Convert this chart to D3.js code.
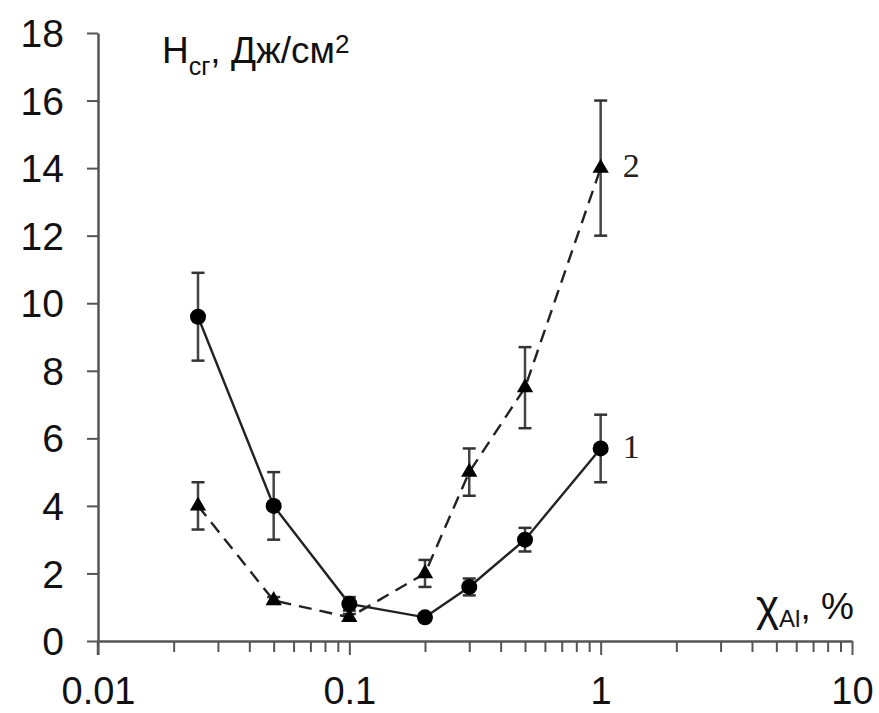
<!DOCTYPE html>
<html><head><meta charset="utf-8">
<script src="https://cdn.jsdelivr.net/npm/d3@7"></script>
<style>body{margin:0;background:#fff}svg{display:block}</style>
</head><body>
<svg id="c" width="879" height="713"></svg>
<script>
// Data
const xValues = [0.025, 0.05, 0.1, 0.2, 0.3, 0.5, 1];
const series1 = [9.6, 4.0, 1.1, 0.7, 1.6, 3.0, 5.7];
const series1Err = [1.3, 1.0, 0.2, 0.1, 0.25, 0.35, 1.0];
const series2 = [4.0, 1.2, 0.7, 2.0, 5.0, 7.5, 14.0];
const series2Err = [0.7, 0.1, 0.1, 0.4, 0.7, 1.2, 2.0];
const yTicks = [0, 2, 4, 6, 8, 10, 12, 14, 16, 18];
const xMajorTicks = [0.01, 0.1, 1, 10];
const xTickLabels = ["0.01", "0.1", "1", "10"];

const svg = d3.select("#c");
const x = d3.scaleLog().domain([0.01, 10]).range([98, 852]);
const y = d3.scaleLinear().domain([0, 18]).range([641, 33]);
const axisColor = "#555";
const font = "'Liberation Sans', Arial, sans-serif";

// X axis minor ticks
const minor = [];
[0.01, 0.1, 1].forEach(d => { for (let k = 2; k <= 9; k++) minor.push(d * k); });
const xAxisMinor = d3.axisBottom(x).tickValues(minor).tickSize(11).tickFormat("");
const gxm = svg.append("g").attr("transform", "translate(0,641)").call(xAxisMinor);
gxm.select(".domain").remove();
gxm.selectAll("line").attr("stroke", axisColor).attr("stroke-width", 2);

const xAxis = d3.axisBottom(x).tickValues(xMajorTicks).tickSize(14).tickSizeOuter(0)
  .tickFormat((d, i) => xTickLabels[i]);
const gx = svg.append("g").attr("transform", "translate(0,641)").call(xAxis);
gx.select(".domain").attr("stroke", axisColor).attr("stroke-width", 2.5);
gx.selectAll("line").attr("stroke", axisColor).attr("stroke-width", 2);
gx.selectAll("text").attr("font-family", font).attr("font-size", 38).attr("fill", "#111")
  .attr("y", 0).attr("dy", 63);

// Y axis
const yAxis = d3.axisLeft(y).tickValues(yTicks).tickSize(11).tickSizeOuter(0).tickFormat(d3.format("d"));
const gy = svg.append("g").attr("transform", "translate(98,0)").call(yAxis);
gy.select(".domain").attr("stroke", axisColor).attr("stroke-width", 2.5);
gy.selectAll("line").attr("stroke", axisColor).attr("stroke-width", 2);
gy.selectAll("text").attr("font-family", font).attr("font-size", 39).attr("fill", "#111")
  .attr("x", -34).attr("dy", "0.35em");
// extend y axis downward below x axis
svg.append("line").attr("x1", 98).attr("x2", 98).attr("y1", y(0)).attr("y2", y(0) + 14)
  .attr("stroke", axisColor).attr("stroke-width", 2.5);

// Lines
const pts1 = xValues.map((d, i) => [d, series1[i], series1Err[i]]);
const pts2 = xValues.map((d, i) => [d, series2[i], series2Err[i]]);
const line = d3.line().x(d => x(d[0])).y(d => y(d[1]));

svg.append("path").datum(pts2).attr("d", line).attr("fill", "none")
  .attr("stroke", "#222").attr("stroke-width", 2.4).attr("stroke-dasharray", "13,8");
svg.append("path").datum(pts1).attr("d", line).attr("fill", "none")
  .attr("stroke", "#222").attr("stroke-width", 2.4);

// Error bars
function errorBars(pts) {
  const g = svg.append("g");
  pts.forEach(d => {
    const cx = x(d[0]);
    const top = y(d[1] + d[2]), bot = y(d[1] - d[2]);
    g.append("line").attr("x1", cx).attr("x2", cx).attr("y1", top).attr("y2", bot)
      .attr("stroke", "#444").attr("stroke-width", 2.5);
    [top, bot].forEach(yy => g.append("line").attr("x1", cx - 6.5).attr("x2", cx + 6.5)
      .attr("y1", yy).attr("y2", yy).attr("stroke", "#333").attr("stroke-width", 2.5));
  });
}
errorBars(pts1);
errorBars(pts2);

// Markers
svg.append("g").selectAll("circle").data(pts1).join("circle")
  .attr("cx", d => x(d[0])).attr("cy", d => y(d[1])).attr("r", 8).attr("fill", "#000");
const tri = d3.symbol().type(d3.symbolTriangle).size(115);
svg.append("g").selectAll("path").data(pts2).join("path")
  .attr("d", tri).attr("transform", d => `translate(${x(d[0])},${y(d[1])})`).attr("fill", "#000");

// Series labels
svg.append("text").attr("x", x(1) + 22).attr("y", y(series1[6]) + 10).attr("font-family", "'Liberation Serif', 'Times New Roman', serif")
  .attr("font-size", 34).attr("fill", "#222").text("1");
svg.append("text").attr("x", x(1) + 22).attr("y", y(series2[6]) + 9).attr("font-family", "'Liberation Serif', 'Times New Roman', serif")
  .attr("font-size", 34).attr("fill", "#222").text("2");

// Y title
const yt = svg.append("text").attr("x", 162).attr("y", 63).attr("font-family", font).attr("font-size", 37).attr("fill", "#111");
yt.append("tspan").text("H");
yt.append("tspan").attr("font-size", 25).attr("dy", 12).text("сг");
yt.append("tspan").attr("dy", -12).text(", Дж/см");
yt.append("tspan").attr("font-size", 26).attr("dy", -10).text("2");

// X title
const xt = svg.append("text").attr("x", 756).attr("y", 619).attr("font-family", font).attr("font-size", 37).attr("fill", "#111");
xt.append("tspan").attr("font-size", 44).attr("dy", 2).text("χ");
xt.append("tspan").attr("font-size", 24).attr("dy", 6).text("Al");
xt.append("tspan").attr("dy", -8).text(",  %");
</script>
</body></html>
